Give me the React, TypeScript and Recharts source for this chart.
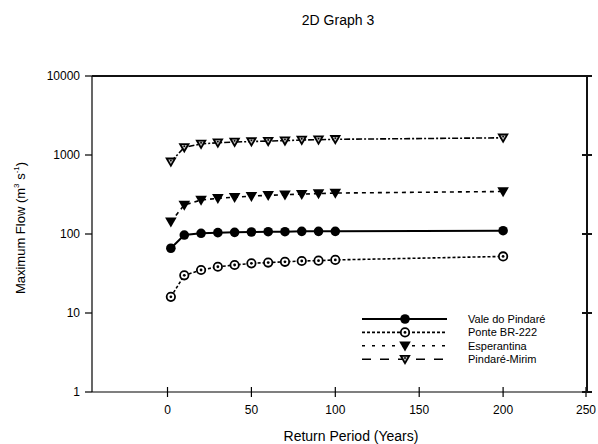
import React from 'react'
import { LineChart, Line, XAxis, YAxis, Legend } from 'recharts'

// return periods (years) and maximum flow per station (m3/s)
const returnPeriods = [2, 10, 20, 30, 40, 50, 60, 70, 80, 90, 100, 200]
const valeDoPindare = [66, 97, 102, 104, 105, 106, 107, 107, 108, 108, 108, 110]
const ponteBR222 = [16, 30, 35, 38.5, 40.5, 42.5, 43.5, 44.5, 45.5, 46, 47, 52]
const esperantina = [143, 233, 269, 283, 292, 302, 309, 314, 320, 325, 330, 345]
const pindareMirim = [820, 1250, 1380, 1430, 1460, 1480, 1500, 1520, 1550, 1560, 1580, 1650]

const xTicks = [0, 50, 100, 150, 200, 250]
const yTicks = [1, 10, 100, 1000, 10000]

const FONT = '"Liberation Sans", Arial, sans-serif'
const W = 598
const H = 444
const margin = { top: 76, right: 11, bottom: 22, left: 0 }
// plot box edges (left = y axis width, bottom = H - bottom margin - x axis height)
const PLOT_LEFT = 92
const PLOT_RIGHT = 587
const PLOT_TOP = 76
const PLOT_BOTTOM = 392

type MarkerKind = 'circle' | 'ringdot' | 'tri' | 'tridot'

const seriesKeys = ['vale', 'ponte', 'esperantina', 'mirim']
const seriesStyle: Record<string, { name: string; marker: MarkerKind; dash?: string; legendDash?: string; width: number }> = {
  vale: { name: 'Vale do Pindaré', marker: 'circle', width: 2 },
  ponte: { name: 'Ponte BR-222', marker: 'ringdot', dash: '3 2', width: 1.6 },
  esperantina: { name: 'Esperantina', marker: 'tri', dash: '4 4', legendDash: '3 7', width: 1.6 },
  mirim: { name: 'Pindaré-Mirim', marker: 'tridot', dash: '6 2 2 2', legendDash: '9 9', width: 1.6 },
}

const data = returnPeriods.map((t, i) => ({
  t,
  vale: valeDoPindare[i],
  ponte: ponteBR222[i],
  esperantina: esperantina[i],
  mirim: pindareMirim[i],
}))

function Marker({ kind, cx, cy }: { kind: MarkerKind; cx: number; cy: number }) {
  if (kind === 'circle') return <circle cx={cx} cy={cy} r={4.8} fill="#000" />
  if (kind === 'ringdot')
    return (
      <g>
        <circle cx={cx} cy={cy} r={4.2} fill="#fff" stroke="#000" strokeWidth={1.8} />
        <circle cx={cx} cy={cy} r={1.4} fill="#000" />
      </g>
    )
  const pts = `${cx - 5.8},${cy - 4.2} ${cx + 5.8},${cy - 4.2} ${cx},${cy + 5.8}`
  if (kind === 'tri') return <polygon points={pts} fill="#000" />
  const inner = `${cx - 2.6},${cy - 2.4} ${cx + 2.6},${cy - 2.4} ${cx},${cy + 2.2}`
  return (
    <g>
      <polygon points={pts} fill="#000" />
      <polygon points={inner} fill="#bbb" />
      <circle cx={cx} cy={cy - 1.2} r={0.9} fill="#000" />
    </g>
  )
}

const BottomTick = (props: any) => {
  const { x, y, payload } = props
  const axisY = y - 13
  return (
    <g>
      <path d={`M${x},${axisY - 5}V${axisY + 5}`} stroke="#000" strokeWidth={1.2} />
      <text x={x} y={y} dy="0.71em" textAnchor="middle" fontSize={12} fontFamily={FONT} fill="#000">
        {payload.value}
      </text>
    </g>
  )
}

// left tick label, plus the matching crossing tick on the right frame edge
const LeftTick = (props: any) => {
  const { x, y, payload } = props
  return (
    <g>
      <text x={x} y={y} dy="0.355em" textAnchor="end" fontSize={12} fontFamily={FONT} fill="#000">
        {payload.value}
      </text>
      <rect x={PLOT_RIGHT - 5} y={y - 1} width={10} height={2} fill="#111" />
    </g>
  )
}

const XLabel = () => (
  <text x={351} y={441} textAnchor="middle" fontSize={14} fontFamily={FONT} fill="#000">
    Return Period (Years)
  </text>
)

// y axis title and chart title
const YLabel = () => (
  <g>
    <text x={338} y={25} textAnchor="middle" fontSize={14} fontFamily={FONT} fill="#000">
      2D Graph 3
    </text>
    <text
      x={22}
      y={228}
      transform="rotate(-90, 22, 228)"
      textAnchor="middle"
      dominantBaseline="middle"
      fontSize={13}
      fontFamily={FONT}
      fill="#000"
    >
      Maximum Flow (m
      <tspan dy={-5} fontSize={8}>3</tspan>
      <tspan dy={5}> s</tspan>
      <tspan dy={-5} fontSize={8}>-1</tspan>
      <tspan dy={5}>)</tspan>
    </text>
  </g>
)

const LegendBox = () => (
  <svg width={200} height={60}>
    {seriesKeys.map((k, i) => {
      const s = seriesStyle[k]
      const cy = 9 + i * 13.4
      return (
        <g key={k}>
          <line x1={7} x2={92} y1={cy} y2={cy} stroke="#000" strokeWidth={s.width} strokeDasharray={s.legendDash ?? s.dash} />
          <Marker kind={s.marker} cx={50} cy={cy} />
          <text x={113} y={cy} dy="0.35em" fontSize={11} fontFamily={FONT} fill="#000">
            {s.name}
          </text>
        </g>
      )
    })}
  </svg>
)

export default function App() {
  return (
    <div style={{ position: 'absolute', left: 0, top: 0, background: '#fff' }}>
      <LineChart width={W} height={H} data={data} margin={margin}>
        <XAxis
          xAxisId="bottom"
          dataKey="t"
          type="number"
          domain={[-45, 250]}
          ticks={xTicks}
          allowDataOverflow
          height={30}
          tickSize={5}
          tickMargin={8}
          tickLine={false}
          axisLine={{ stroke: '#000', strokeWidth: 1.2 }}
          tick={<BottomTick />}
          label={<XLabel />}
        />
        <YAxis
          yAxisId="left"
          type="number"
          scale="log"
          domain={[1, 10000]}
          ticks={yTicks}
          allowDataOverflow
          width={92}
          tickSize={7}
          tickMargin={5}
          axisLine={{ stroke: '#000', strokeWidth: 1.2 }}
          tickLine={{ stroke: '#000', strokeWidth: 1.2 }}
          tick={<LeftTick />}
          label={<YLabel />}
        />
        <Legend
          layout="vertical"
          align="center"
          verticalAlign="middle"
          wrapperStyle={{ left: 355, top: 310, width: 200, height: 60 }}
          content={<LegendBox />}
        />
        {seriesKeys.map((k) => (
          <Line
            key={k}
            xAxisId="bottom"
            yAxisId="left"
            dataKey={k}
            name={seriesStyle[k].name}
            type="linear"
            stroke="#000"
            strokeWidth={seriesStyle[k].width}
            strokeDasharray={seriesStyle[k].dash}
            isAnimationActive={false}
            dot={(p: any) => <Marker key={`${k}-${p.index}`} kind={seriesStyle[k].marker} cx={p.cx} cy={p.cy} />}
            activeDot={false}
          />
        ))}
      </LineChart>
      {/* top and right edges of the plot frame, drawn as filled strips */}
      <svg width={W} height={H} style={{ position: 'absolute', left: 0, top: 0, pointerEvents: 'none' }}>
        <rect x={PLOT_LEFT} y={PLOT_TOP - 1} width={PLOT_RIGHT - PLOT_LEFT + 1} height={2} fill="#111" />
        <rect x={PLOT_RIGHT - 1} y={PLOT_TOP - 1} width={2} height={PLOT_BOTTOM - PLOT_TOP + 1} fill="#111" />
      </svg>
    </div>
  )
}
